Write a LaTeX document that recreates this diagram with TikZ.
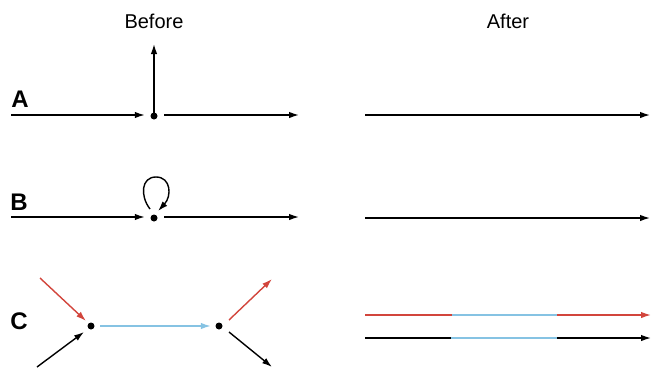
\documentclass[tikz,border=0pt]{standalone}
\usepackage{fontspec}
\setmainfont{Liberation Sans}
\usetikzlibrary{arrows.meta}
\definecolor{cred}{HTML}{D2453C}
\definecolor{cblue}{HTML}{86C3E3}
\begin{document}
\begin{tikzpicture}[x=1pt,y=-1pt,
  line width=1.4pt,
  arr/.style={-{Latex[length=10pt,width=6.5pt]}},
  dotn/.style={circle,fill=black,inner sep=0pt,minimum size=7pt},
  lab/.style={font=\fontsize{24}{24}\selectfont\bfseries,anchor=center,inner sep=0pt},
  head/.style={font=\fontsize{20}{20}\selectfont,inner sep=0pt}]
\useasboundingbox (0,0) rectangle (652,367);
\node[head] (hb) at (154,21) {Before};
\node[head] (ha) at (508,21) {After};
% Row A
\node[lab] (la) at (20,99) {A};
\node[dotn] (da) at (154,116) {};
\coordinate (a0) at (11,115);
\coordinate (a1) at (299,115);
\coordinate (a2) at (154,44);
\draw[arr] (a0) -- ([xshift=-5pt]da.west |- a0);
\draw[arr] ([xshift=6pt]da.east |- a1) -- (a1);
\draw[arr] ([yshift=-5pt]da.north) -- (a2);
\coordinate (aa0) at (365,115);
\coordinate (aa1) at (650,115);
\draw[arr] (aa0) -- (aa1);
% Row B
\node[lab] (lb) at (19,202) {B};
\node[dotn] (db) at (154,218) {};
\coordinate (b0) at (11,217);
\coordinate (b1) at (299,217);
\draw[arr] (b0) -- ([xshift=-5pt]db.west |- b0);
\draw[arr] ([xshift=6pt]db.east |- b1) -- (b1);
\draw[arr] (150,209) .. controls (140,196) and (141,177) .. (156,177) .. controls (171,177) and (172,196) .. (158,211);
\coordinate (bb0) at (365,218);
\coordinate (bb1) at (650,218);
\draw[arr] (bb0) -- (bb1);
% Row C
\node[lab] (lc) at (19,321) {C};
\node[dotn] (c1) at (91,326) {};
\node[dotn] (c2) at (219,326) {};
\coordinate (r0) at (40,278);
\coordinate (k0) at (37,367);
\coordinate (r1) at (272,279);
\coordinate (k1) at (272,367);
\draw[arr,cred] (r0) -- (86,321);
\draw[arr] (k0) -- (84,332);
\draw[arr,cblue] ([xshift=5pt]c1.east) -- ([xshift=-4pt]c2.west);
\draw[arr,cred] (229,320) -- (r1);
\draw[arr] (229,332) -- (k1);
% After C
\coordinate (cr0) at (365,315);
\coordinate (cr1) at (452,315);
\coordinate (cr2) at (557,315);
\coordinate (cr3) at (651,315);
\coordinate (ck0) at (365,338);
\coordinate (ck1) at (451,338);
\coordinate (ck2) at (557,338);
\coordinate (ck3) at (651,338);
\draw[cred] (cr0) -- (cr1);
\draw[cblue] (cr1) -- (cr2);
\draw[arr,cred] (cr2) -- (cr3);
\draw (ck0) -- (ck1);
\draw[cblue] (ck1) -- (ck2);
\draw[arr] (ck2) -- (ck3);
\end{tikzpicture}
\end{document}
